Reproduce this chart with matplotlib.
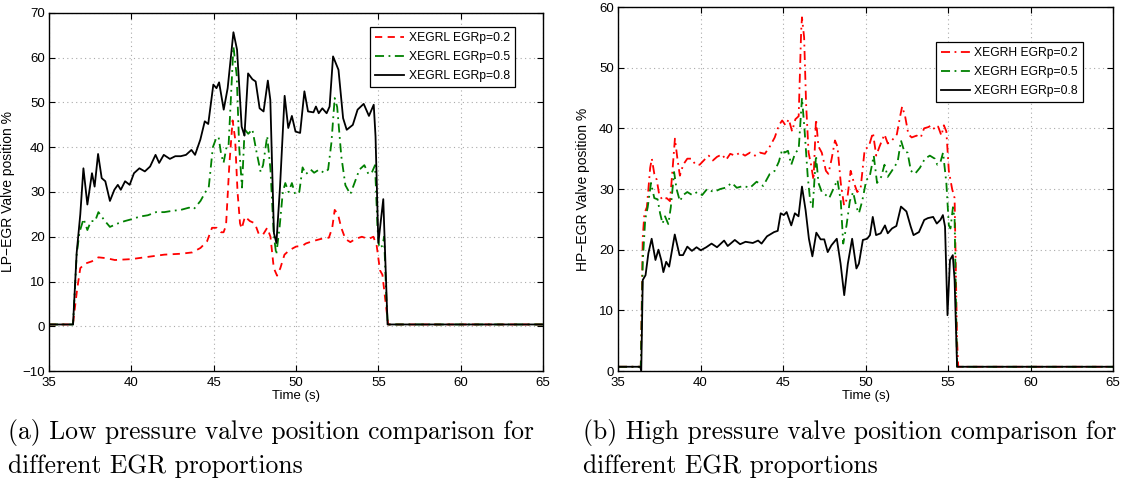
import matplotlib
matplotlib.use("Agg")
import matplotlib.pyplot as plt

# ---------------- data ----------------
# Left panel: LP-EGR valve position (%)
lp_t_02 = [35, 36.45, 36.7, 36.9, 37.2, 37.6, 38.0, 38.5, 39.0, 40.0, 41.0, 42.0, 43.0, 43.7, 44.2, 44.6,
           44.9, 45.2, 45.45, 45.6, 45.75, 45.95, 46.15, 46.3, 46.45, 46.6, 46.7, 46.9, 47.2, 47.5, 47.75,
           48.0, 48.25, 48.45, 48.65, 48.85, 49.05, 49.3, 49.6, 50.0, 50.4, 50.6, 51.0, 51.5, 52.0, 52.2,
           52.35, 52.55, 52.75, 53.0, 53.3, 53.6, 54.0, 54.4, 54.7, 54.9, 55.1, 55.25, 55.45, 55.6, 65]
lp_v_02 = [0.4, 0.4, 8, 13, 14, 14.5, 15.4, 15.2, 14.8, 15, 15.5, 16, 16.2, 16.5, 17.5, 19,
           22, 22, 21, 21, 22.5, 36, 46, 42, 30, 23, 21.8, 24.5, 23.5, 23, 20.5,
           20.5, 22, 20, 13, 11.3, 13, 16, 17, 17.8, 18, 18.5, 19, 19.5, 19.8, 22,
           26, 25, 22, 19.5, 18.8, 19.5, 20, 19.5, 20, 18, 12.5, 11.5, 5, 0.4, 0.4]

lp_t_05 = [35, 36.46, 36.68, 36.85, 37.1, 37.33, 37.55, 37.8, 38.0, 38.4, 38.7, 39.2, 39.6, 40.1, 40.5,
           41.0, 41.5, 42.0, 42.5, 43.0, 43.5, 43.8, 44.2, 44.5, 44.7, 44.95, 45.15, 45.3, 45.45, 45.6,
           45.78, 45.9, 46.2, 46.4, 46.55, 46.72, 46.88, 47.1, 47.35, 47.6, 47.85, 48.0, 48.25, 48.45,
           48.65, 48.8, 49.0, 49.2, 49.35, 49.55, 49.75, 49.95, 50.2, 50.4, 50.6, 50.9, 51.1, 51.4, 51.7,
           51.95, 52.15, 52.35, 52.5, 52.75, 53.0, 53.3, 53.55, 53.85, 54.15, 54.4, 54.6, 54.8, 54.95,
           55.05, 55.25, 55.35, 55.5, 55.58, 65]
lp_v_05 = [0.4, 0.4, 16, 21, 24, 21.5, 23.5, 23.5, 25.5, 23.5, 22.2, 23, 23.5, 24, 24.5,
           24.8, 25.5, 25.5, 25.8, 26, 26.5, 26.2, 28, 30, 31, 40, 42, 42.3, 38.5, 36.5,
           40, 40, 62.5, 56, 40, 31, 44, 43, 44, 39, 34.5, 36, 42.5, 35,
           20.5, 16, 22, 30, 32, 30, 32, 29.5, 30, 35.5, 34, 35, 34.3, 35, 34.3,
           35, 41, 51, 49, 38, 31.5, 29.5, 32, 35, 36, 34, 34.3, 36, 22,
           17.5, 18, 20, 5, 0.4, 0.4]

lp_t_08 = [35, 36.46, 36.68, 36.9, 37.09, 37.33, 37.61, 37.77, 37.98, 38.2, 38.42, 38.7, 38.97, 39.18,
           39.36, 39.62, 39.9, 40.16, 40.49, 40.82, 41.14, 41.47, 41.69, 41.97, 42.34, 42.67, 43.0, 43.32,
           43.65, 43.87, 44.19, 44.46, 44.67, 44.98, 45.17, 45.33, 45.61, 45.85, 46.2, 46.42, 46.7, 46.87,
           47.09, 47.35, 47.55, 47.79, 48.03, 48.29, 48.44, 48.66, 48.81, 49.03, 49.31, 49.53, 49.75,
           49.97, 50.25, 50.51, 50.73, 51.06, 51.21, 51.38, 51.6, 51.86, 52.04, 52.25, 52.58, 52.86,
           53.08, 53.45, 53.74, 54.11, 54.43, 54.72, 54.83, 55.0, 55.3, 55.41, 55.56, 65]
lp_v_08 = [0.4, 0.4, 16.4, 25, 35.3, 27.2, 34.2, 31.2, 38.5, 33.1, 32.4, 28, 30.5, 31.6,
           30.5, 32.4, 31.6, 34.2, 35.3, 34.6, 35.7, 38.3, 36.5, 38.3, 37.4, 38, 38, 38.3,
           39.4, 38.3, 41.7, 45.8, 45.2, 54, 53.2, 54.5, 48.4, 53.2, 65.7, 61.8, 44.6, 42.6,
           56.5, 55.2, 54.7, 48.7, 48, 54.9, 50.6, 20.8, 18.6, 31.2, 51.5, 44.3, 47,
           43.5, 43.2, 52.5, 48, 47.8, 49.1, 47.6, 48.7, 47.6, 49.1, 60.3, 57.3, 46.5,
           43.9, 45, 48.4, 49.7, 47, 49.5, 42.4, 18.6, 28.4, 16.4, 0.4, 0.4]

# Right panel: HP-EGR valve position (%)
hp_t_02 = [35, 36.38, 36.5, 36.6, 36.75, 36.95, 37.05, 37.2, 37.35, 37.5, 37.7, 37.95, 38.15, 38.3, 38.45,
           38.6, 38.75, 38.95, 39.2, 39.45, 39.7, 39.95, 40.3, 40.5, 40.75, 41.0, 41.3, 41.55, 41.8, 42.1,
           42.4, 42.7, 43.0, 43.3, 43.6, 43.9, 44.2, 44.5, 44.75, 44.95, 45.15, 45.35, 45.55, 45.75, 45.95,
           46.1, 46.15, 46.28, 46.4, 46.55, 46.7, 46.85, 47.0, 47.15, 47.35, 47.6, 47.75, 47.95, 48.15,
           48.3, 48.5, 48.7, 48.9, 49.1, 49.3, 49.5, 49.7, 49.95, 50.2, 50.45, 50.65, 50.85, 51.15, 51.35,
           51.6, 51.9, 52.1, 52.22, 52.4, 52.6, 52.8, 53.1, 53.35, 53.55, 53.8, 54.0, 54.2, 54.4, 54.6,
           54.75, 54.9, 55.05, 55.25, 55.4, 55.55, 55.62, 65]
hp_v_02 = [0.7, 0.7, 22, 26, 27, 33.5, 35, 32.5, 31.5, 29, 28.2, 28.5, 28, 33, 38.3,
           35, 32.2, 34, 35, 35, 34, 34, 35, 35.5, 34.7, 35.3, 35.7, 34.8, 35.8, 35.5,
           36, 35.5, 36, 35.5, 36, 35.8, 37, 38.5, 40.5, 41.3, 40.5, 41.5, 39.5, 41.5, 42,
           56, 58.3, 55, 44, 36, 34, 31.5, 41.5, 37, 36, 33, 32.5, 35, 38,
           37, 31, 27.3, 28.5, 33, 31, 29.5, 30, 36.5, 37, 39.3, 35.5, 37, 39, 37.5,
           38, 39, 42, 43.6, 42, 39, 38.5, 38.8, 38.5, 40, 40.2, 40.5, 39.8, 40.3, 38.8,
           40.5, 39.5, 33, 30, 28.5, 5, 0.7, 0.7]

hp_t_05 = [35, 36.38, 36.5, 36.65, 36.8, 37.0, 37.2, 37.4, 37.55, 37.7, 37.85, 38.05, 38.2, 38.4, 38.55,
           38.75, 38.95, 39.2, 39.5, 39.8, 40.1, 40.4, 40.8, 41.2, 41.5, 41.9, 42.2, 42.6, 43.0, 43.4,
           43.8, 44.2, 44.5, 44.75, 44.95, 45.1, 45.3, 45.5, 45.75, 45.95, 46.15, 46.3, 46.5, 46.65, 46.8,
           47.0, 47.15, 47.35, 47.6, 47.8, 48.05, 48.3, 48.5, 48.65, 48.85, 49.05, 49.25, 49.45, 49.6,
           49.8, 50.05, 50.25, 50.5, 50.7, 50.95, 51.15, 51.35, 51.6, 51.95, 52.15, 52.35, 52.55, 52.75,
           53.0, 53.3, 53.6, 53.9, 54.2, 54.35, 54.55, 54.7, 54.9, 55.05, 55.15, 55.3, 55.4, 55.55, 65]
hp_v_05 = [0.7, 0.7, 18, 25, 27, 31, 28.5, 28.3, 26, 24.3, 25.5, 24.2, 27, 32.8, 30,
           28, 29, 29.5, 29, 29.5, 29, 30, 29.5, 30, 30.2, 31, 30.2, 30.5, 30.2, 31.2,
           30.5, 32.5, 33, 34.5, 36.5, 36, 36.3, 34, 36, 36.5, 45, 40, 32, 28, 27,
           35.5, 31, 29.5, 29, 28.5, 30, 31.5, 28, 21, 24, 28, 29.5, 27, 26,
           28, 31.5, 32, 35.5, 31, 32, 34, 32, 33, 34.5, 38, 36.2, 36, 33,
           32.5, 33.5, 35, 35.5, 35, 34, 34.5, 36, 31, 24, 23.5, 27, 25, 0.7, 0.7]

hp_t_08 = [35, 36.34, 36.41, 36.5, 36.67, 36.84, 37.04, 37.27, 37.45, 37.62, 37.75, 37.92, 38.1, 38.44,
           38.73, 38.94, 39.2, 39.48, 39.76, 40.02, 40.35, 40.67, 41.0, 41.43, 41.65, 42.08, 42.4, 42.73,
           43.17, 43.49, 43.7, 44.03, 44.46, 44.68, 44.86, 45.05, 45.22, 45.5, 45.72, 45.94, 46.15, 46.37,
           46.57, 46.78, 47.02, 47.28, 47.5, 47.71, 47.93, 48.26, 48.49, 48.71, 48.93, 49.19, 49.45, 49.6,
           49.84, 50.1, 50.27, 50.44, 50.64, 50.92, 51.18, 51.35, 51.61, 51.87, 52.15, 52.48, 52.74,
           52.91, 53.24, 53.56, 53.78, 54.1, 54.32, 54.54, 54.69, 54.82, 54.97, 55.12, 55.29, 55.4,
           55.55, 65]
hp_v_08 = [0.7, 0.7, 0.1, 15, 15.8, 19.4, 21.8, 18.3, 20, 18.3, 16.3, 18, 17.2, 22.5,
           19.1, 19.1, 20.5, 19.8, 20.4, 19.9, 20.4, 21, 20.4, 21.5, 20.6, 21.6, 20.9, 21.3,
           21.1, 21.5, 21, 22.2, 22.9, 23.1, 26, 25.7, 26.2, 24, 26, 25.5, 30.4, 26.5,
           21.8, 18.9, 22.8, 21.7, 21.7, 19.6, 20.7, 21.8, 17.7, 12.5, 17.7, 21.8, 16.9, 17.7,
           21.6, 21.8, 22.4, 25.4, 22.4, 22.7, 24, 22.7, 23.5, 23.9, 27.1, 26.3, 23.8,
           22.4, 22.9, 24.9, 25.2, 25.4, 24.3, 24.9, 25.7, 23.8, 9.2, 18.3, 19.1, 15,
           0.7, 0.7]

lp_labels = ["XEGRL EGRp=0.2", "XEGRL EGRp=0.5", "XEGRL EGRp=0.8"]
hp_labels = ["XEGRH EGRp=0.2", "XEGRH EGRp=0.5", "XEGRH EGRp=0.8"]
x_ticks = [35, 40, 45, 50, 55, 60, 65]
lp_yticks = [-10, 0, 10, 20, 30, 40, 50, 60, 70]
hp_yticks = [0, 10, 20, 30, 40, 50, 60]
caption_a = ["(a) Low pressure valve position comparison for", "different EGR proportions"]
caption_b = ["(b) High pressure valve position comparison for", "different EGR proportions"]

# ---------------- style ----------------
plt.rcParams['font.family'] = ['Liberation Sans', 'DejaVu Sans']
plt.rcParams['axes.unicode_minus'] = True

W, H = 1124, 483
fig = plt.figure(figsize=(W / 100, H / 100), dpi=100)

def px_axes(x0, x1, ytop, ybot):
    return fig.add_axes([x0 / W, (H - ybot) / H, (x1 - x0) / W, (ybot - ytop) / H])

axL = px_axes(49, 543, 13, 371)
axR = px_axes(618, 1113, 7, 371)

red = (1, 0, 0)
green = (0, 0.5, 0)
lw = 1.3

axL.plot(lp_t_02, lp_v_02, color=red, ls=(0, (4, 3)), lw=lw, label=lp_labels[0])
axL.plot(lp_t_05, lp_v_05, color=green, ls=(0, (5, 2.5, 1, 2.5)), lw=lw, label=lp_labels[1])
axL.plot(lp_t_08, lp_v_08, color='black', ls='-', lw=lw, label=lp_labels[2])

axR.plot(hp_t_02, hp_v_02, color=red, ls=(0, (5, 2.5, 1, 2.5)), lw=lw, label=hp_labels[0])
axR.plot(hp_t_05, hp_v_05, color=green, ls=(0, (5, 2.5, 1, 2.5)), lw=lw, label=hp_labels[1])
axR.plot(hp_t_08, hp_v_08, color='black', ls='-', lw=lw, label=hp_labels[2])

for ax, yt, ylab, ylab_x in ((axL, lp_yticks, "LP\u2212EGR Valve position %", -0.069),
                             (axR, hp_yticks, "HP\u2212EGR Valve position %", -0.056)):
    ax.set_xlim(35, 65)
    ax.set_ylim(yt[0], yt[-1])
    ax.set_xticks(x_ticks)
    ax.set_yticks(yt)
    ax.tick_params(direction='in', length=4, width=0.8, top=True, right=True,
                   labelsize=9.5)
    ax.tick_params(axis='x', pad=4.5)
    ax.tick_params(axis='y', pad=3)
    ax.grid(True, ls=(0, (1, 3)), color='#aaaaaa', lw=0.8)
    for s in ax.spines.values():
        s.set_linewidth(1.0)
    ax.set_xlabel("Time (s)", fontsize=9.5, labelpad=0.5)
    ax.set_ylabel(ylab, fontsize=10)
    ax.yaxis.set_label_coords(ylab_x, 0.5)

leg_kw = dict(loc='upper right', fontsize=8.7, frameon=True, fancybox=False,
              edgecolor='black', framealpha=1, handlelength=2.4, borderpad=0.4,
              labelspacing=0.6, handletextpad=0.4, borderaxespad=0)
legL = axL.legend(bbox_to_anchor=(0.943, 0.961), **leg_kw)
legL.get_frame().set_linewidth(0.9)
legR = axR.legend(bbox_to_anchor=(0.939, 0.904), **leg_kw)
legR.get_frame().set_linewidth(0.9)

for x0, lines in ((8, caption_a), (583, caption_b)):
    fig.text(x0 / W, 1 - 433 / H, lines[0], ha='left', va='center', fontsize=18.4,
             family='cmr10')
    fig.text(x0 / W, 1 - 466 / H, lines[1], ha='left', va='center', fontsize=18.4,
             family='cmr10')

fig.savefig("out.png", dpi=100)
